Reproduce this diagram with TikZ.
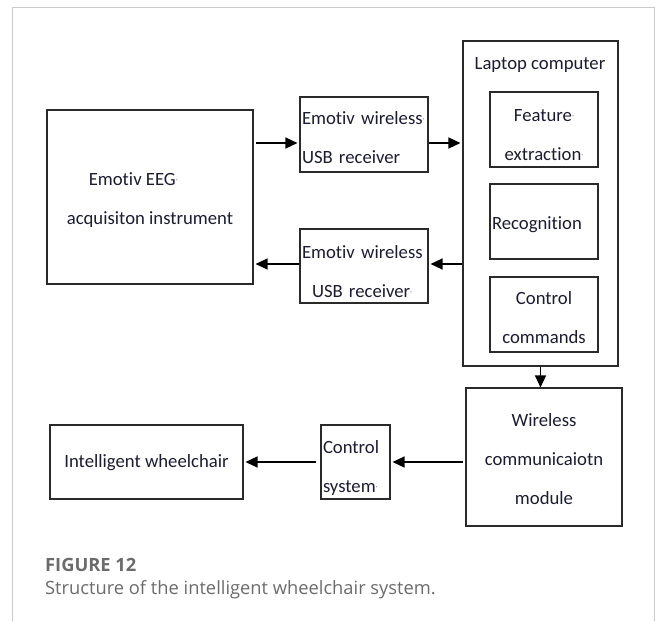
\documentclass[tikz,border=0pt]{standalone}
\usepackage{fontspec}
\setmainfont[Ligatures=NoCommon]{Carlito}
\newfontfamily\capfont{Open Sans}
\usetikzlibrary{arrows.meta, positioning}
\usepackage{xcolor}
\definecolor{FrameGray}{HTML}{CBCBCB}
\definecolor{CapGray}{HTML}{6B6B6B}
\definecolor{BoxLine}{HTML}{2A2A2A}
\definecolor{TextInk}{HTML}{1C1C30}
% small paragraph marks left in the labels
\newcommand{\pdot}{{\color{gray}\fontsize{8}{8}\selectfont\raisebox{3pt}{·}}}
% strut to push a label down inside its box
\newcommand{\lift}[1][19]{\rule{0pt}{#1pt}}
\tikzset{
    % Box styles
    block/.style={
        rectangle,
        draw=BoxLine,
        line width=1.1pt,
        inner sep=2pt,
        text=TextInk,
        font=\fontsize{18.7}{39}\selectfont
    },
    label/.style={
        text=TextInk,
        inner sep=0pt,
        font=\fontsize{18.7}{39}\selectfont
    },
    caption/.style={
        anchor=west,
        inner sep=0pt,
        text=CapGray,
        font=\capfont\fontsize{18.3}{22}\selectfont
    },
    % Arrow styles
    arrow/.style={
        -{Triangle[length=12pt,width=11pt]},
        line width=1.3pt,
        draw=black
    }
}
\begin{document}
\begin{tikzpicture}[x=1pt, y=-1pt]
    \useasboundingbox (0,0) rectangle (658,621);
    \draw[FrameGray, line width=1pt] (12,621) -- (12,7) -- (654,7) -- (654,621);

    \node[block, minimum width=206pt, minimum height=174pt, align=left] (eeg) at (150,197)
        {\lift\hspace*{22pt}Emotiv EEG\pdot\\acquisiton instrument};

    \node[block, minimum width=128pt, minimum height=75pt, text width=124pt, align=left] (usbA) at (364,134.5)
        {\lift Emotiv wireless\pdot\\USB receiver};

    \node[block, minimum width=128pt, minimum height=74pt, text width=124pt, align=left] (usbB) at (364,266)
        {\lift[25]Emotiv wireless\\\hspace*{10pt}USB receiver\pdot};

    \node[block, minimum width=155pt, minimum height=325pt] (laptop) at (540.5,203.5) {};
    \node[label] (laptoptitle) at (540,63) {\lift[17]Laptop computer};

    \node[block, minimum width=108pt, minimum height=75pt, align=center] (feat) at (544,129.5)
        {\lift[23]Feature\pdot\\extraction\pdot};

    \node[block, minimum width=108pt, minimum height=75pt, text width=104pt, align=left] (recog) at (544,221.5)
        {\lift Recognition};

    \node[block, minimum width=108pt, minimum height=75pt, align=center] (cmds) at (544,314.5)
        {\lift Control\\commands};

    \node[block, minimum width=156pt, minimum height=138pt, align=center] (wcm) at (544,457)
        {\lift[17]Wireless\\communicaiotn\\module};

    \node[block, minimum width=69pt, minimum height=74pt, text width=65pt, align=left] (ctrl) at (355.5,462)
        {\lift[25]Control\\system\pdot};

    \node[block, minimum width=193pt, minimum height=74pt] (chair) at (146.5,462)
        {\lift[15]Intelligent wheelchair};

    \node[caption, font=\capfont\bfseries\fontsize{18.3}{22}\selectfont] (fig) at (45,565) {FIGURE 12};
    \node[caption] (cap) at (45,590) {Structure of the intelligent wheelchair system.};

    \coordinate (upper) at (0,143);
    \coordinate (lower) at (0,264);

    \draw[arrow, shorten <=2pt, shorten >=2pt] (eeg.east |- upper) -- (usbA.west |- upper);
    \draw[arrow, shorten >=2pt] (usbA.east |- upper) -- (laptop.west |- upper);
    \draw[arrow, shorten >=2pt] (laptop.west |- lower) -- (usbB.east |- lower);
    \draw[arrow, shorten >=2pt] (usbB.west |- lower) -- (eeg.east |- lower);
    \draw[arrow] (laptop.south) -- (laptop.south |- wcm.north);
    \draw[arrow, shorten <=2pt, shorten >=2pt] (wcm.west |- ctrl.east) -- (ctrl.east);
    \draw[arrow, shorten <=4pt, shorten >=2pt] (ctrl.west) -- (chair.east);
\end{tikzpicture}
\end{document}
